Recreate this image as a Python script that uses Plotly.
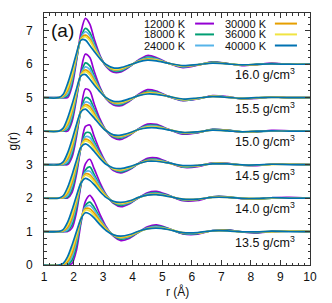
import plotly.graph_objects as go

# r grid (Angstrom) shared by every g(r) curve
R = [1.0, 1.5, 1.65, 1.8, 1.95, 2.1, 2.25, 2.4, 2.55, 2.7, 2.9, 3.1, 3.35, 3.6,
     3.9, 4.2, 4.5, 4.8, 5.2, 5.7, 6.2, 6.7, 7.2, 7.7, 8.2, 8.7, 9.3, 10.0]

TEMPS = ["12000 K", "18000 K", "24000 K", "30000 K", "36000 K", "40000 K"]
COLORS = ["#9400d3", "#009e73", "#56b4e9", "#e69f00", "#f0e442", "#0072b2"]
DENSITIES = ["13.5", "14.0", "14.5", "15.0", "15.5", "16.0"]
OFFSETS = [0, 1, 2, 3, 4, 5]

# g(r) per density; rows ordered as TEMPS
G_13_5 = [
    [0,0,0,0,0.05,0.45,1.25,1.9,2.08,1.9,1.5,1.15,0.86,0.73,0.8,0.98,1.14,1.2,1.1,0.93,0.92,1.03,1.05,0.99,0.96,1.0,1.02,1.0],
    [0,0,0,0.01,0.15,0.6,1.3,1.78,1.88,1.72,1.4,1.12,0.88,0.77,0.83,0.98,1.11,1.16,1.09,0.94,0.94,1.03,1.04,0.99,0.97,1.0,1.01,1.0],
    [0,0,0,0.05,0.25,0.72,1.35,1.73,1.78,1.64,1.36,1.11,0.89,0.8,0.85,0.99,1.1,1.14,1.08,0.95,0.95,1.03,1.03,0.99,0.98,1.0,1.01,1.0],
    [0,0,0.01,0.1,0.35,0.82,1.38,1.68,1.68,1.55,1.31,1.09,0.89,0.82,0.87,0.99,1.09,1.12,1.07,0.96,0.96,1.02,1.03,0.99,0.98,1.0,1.01,1.0],
    [0,0,0.03,0.17,0.47,0.9,1.4,1.64,1.61,1.48,1.26,1.06,0.9,0.84,0.89,1.0,1.08,1.11,1.07,0.97,0.96,1.02,1.02,0.99,0.99,1.0,1.01,1.0],
    [0,0,0.05,0.25,0.6,1.0,1.38,1.56,1.52,1.4,1.2,1.03,0.9,0.86,0.91,1.01,1.08,1.1,1.06,0.97,0.97,1.02,1.02,0.99,0.99,1.01,1.0,1.0],
]
G_14_0 = [
    [0,0,0,0,0.11,0.58,1.39,2.02,2.16,1.87,1.45,1.11,0.84,0.74,0.83,1.01,1.16,1.2,1.09,0.92,0.93,1.04,1.04,0.98,0.97,1.01,1.02,1.0],
    [0,0,0,0.02,0.21,0.71,1.4,1.84,1.93,1.7,1.36,1.09,0.86,0.78,0.85,1.01,1.13,1.16,1.08,0.94,0.95,1.04,1.04,0.99,0.97,1.0,1.01,1.0],
    [0,0,0,0.06,0.31,0.82,1.44,1.78,1.8,1.63,1.33,1.08,0.88,0.81,0.87,1.01,1.12,1.14,1.07,0.95,0.96,1.03,1.03,0.99,0.98,1.0,1.01,1.0],
    [0,0,0.02,0.12,0.41,0.91,1.46,1.72,1.7,1.54,1.28,1.07,0.88,0.83,0.89,1.01,1.1,1.12,1.06,0.96,0.96,1.03,1.03,0.99,0.98,1.0,1.01,1.0],
    [0,0,0.04,0.2,0.52,0.98,1.47,1.68,1.63,1.48,1.24,1.04,0.89,0.85,0.91,1.02,1.09,1.11,1.06,0.97,0.97,1.02,1.02,0.99,0.99,1.0,1.01,1.0],
    [0,0,0.06,0.28,0.65,1.07,1.45,1.59,1.53,1.4,1.19,1.02,0.9,0.87,0.92,1.02,1.09,1.1,1.05,0.97,0.97,1.02,1.02,0.99,0.99,1.01,1.0,1.0],
]
G_14_5 = [
    [0,0,0,0,0.17,0.71,1.53,2.14,2.18,1.84,1.4,1.06,0.82,0.75,0.85,1.04,1.19,1.2,1.07,0.92,0.94,1.05,1.04,0.98,0.97,1.01,1.01,1.0],
    [0,0,0,0.03,0.27,0.82,1.5,1.94,1.95,1.68,1.33,1.05,0.85,0.78,0.87,1.03,1.15,1.16,1.07,0.93,0.96,1.04,1.03,0.98,0.98,1.01,1.01,1.0],
    [0,0,0,0.08,0.37,0.91,1.52,1.83,1.81,1.61,1.3,1.05,0.86,0.81,0.89,1.03,1.13,1.14,1.06,0.94,0.96,1.04,1.03,0.98,0.98,1.01,1.01,1.0],
    [0,0,0.02,0.15,0.47,0.99,1.53,1.76,1.71,1.53,1.26,1.04,0.87,0.83,0.91,1.03,1.12,1.12,1.05,0.95,0.97,1.03,1.03,0.98,0.98,1.01,1.01,1.0],
    [0,0,0.05,0.22,0.57,1.05,1.54,1.71,1.65,1.47,1.22,1.03,0.88,0.85,0.92,1.03,1.1,1.11,1.05,0.96,0.97,1.03,1.02,0.99,0.99,1.0,1.01,1.0],
    [0,0,0.07,0.32,0.7,1.13,1.52,1.62,1.54,1.39,1.18,1.01,0.9,0.88,0.94,1.03,1.1,1.1,1.05,0.97,0.98,1.02,1.02,0.99,0.99,1.01,1.0,1.0],
]
G_15_0 = [
    [0,0,0,0,0.23,0.84,1.67,2.26,2.2,1.81,1.35,1.02,0.8,0.75,0.88,1.07,1.21,1.2,1.06,0.91,0.95,1.05,1.03,0.97,0.98,1.02,1.01,1.0],
    [0,0,0,0.04,0.33,0.93,1.6,2.0,1.95,1.66,1.29,1.02,0.83,0.79,0.9,1.06,1.17,1.17,1.05,0.93,0.96,1.05,1.03,0.98,0.98,1.01,1.0,1.0],
    [0,0,0.01,0.09,0.43,1.01,1.61,1.87,1.83,1.6,1.26,1.02,0.85,0.82,0.91,1.06,1.15,1.15,1.05,0.94,0.97,1.04,1.02,0.98,0.99,1.01,1.0,1.0],
    [0,0,0.03,0.17,0.53,1.08,1.61,1.79,1.73,1.52,1.23,1.02,0.86,0.84,0.92,1.05,1.13,1.13,1.05,0.95,0.97,1.04,1.02,0.98,0.99,1.01,1.0,1.0],
    [0,0,0.05,0.25,0.62,1.13,1.6,1.75,1.66,1.47,1.21,1.01,0.88,0.86,0.94,1.05,1.12,1.12,1.05,0.96,0.98,1.03,1.01,0.98,1.0,1.01,1.0,1.0],
    [0,0,0.08,0.35,0.75,1.2,1.58,1.66,1.54,1.39,1.18,1.01,0.89,0.88,0.95,1.05,1.1,1.1,1.04,0.96,0.98,1.03,1.01,0.98,1.0,1.01,1.0,1.0],
]
G_15_5 = [
    [0,0,0,0,0.29,0.97,1.81,2.3,2.2,1.78,1.3,0.97,0.78,0.76,0.9,1.1,1.24,1.2,1.04,0.91,0.96,1.06,1.03,0.97,0.98,1.02,1.0,1.0],
    [0,0,0,0.05,0.39,1.04,1.7,2.04,1.95,1.64,1.26,0.98,0.82,0.79,0.92,1.08,1.19,1.17,1.04,0.92,0.97,1.05,1.02,0.97,0.99,1.02,1.0,1.0],
    [0,0,0.01,0.11,0.49,1.1,1.69,1.92,1.84,1.58,1.23,0.99,0.83,0.82,0.93,1.08,1.16,1.15,1.04,0.93,0.97,1.05,1.02,0.97,0.99,1.02,1.0,1.0],
    [0,0,0.03,0.2,0.59,1.16,1.68,1.83,1.74,1.51,1.21,0.99,0.85,0.84,0.94,1.07,1.15,1.13,1.04,0.94,0.98,1.04,1.02,0.97,0.99,1.02,1.0,1.0],
    [0,0,0.06,0.27,0.67,1.2,1.67,1.78,1.68,1.46,1.19,1.0,0.87,0.86,0.95,1.06,1.13,1.12,1.04,0.95,0.98,1.04,1.01,0.98,1.0,1.01,1.0,1.0],
    [0,0,0.09,0.39,0.8,1.26,1.65,1.69,1.55,1.38,1.17,1.0,0.89,0.89,0.97,1.06,1.11,1.1,1.04,0.96,0.99,1.03,1.01,0.98,1.0,1.01,1.0,1.0],
]
G_16_0 = [
    [0,0,0,0,0.35,1.1,1.95,2.37,2.2,1.75,1.25,0.93,0.76,0.77,0.93,1.13,1.26,1.2,1.03,0.9,0.97,1.07,1.02,0.96,0.99,1.03,1.0,1.0],
    [0,0,0,0.06,0.45,1.15,1.8,2.07,1.95,1.62,1.22,0.95,0.8,0.8,0.94,1.11,1.21,1.17,1.03,0.92,0.98,1.06,1.02,0.97,0.99,1.02,1.0,1.0],
    [0,0,0.01,0.12,0.55,1.2,1.78,1.97,1.86,1.57,1.2,0.96,0.82,0.83,0.95,1.1,1.18,1.15,1.03,0.93,0.98,1.05,1.02,0.97,0.99,1.02,1.0,1.0],
    [0,0,0.04,0.22,0.65,1.25,1.76,1.87,1.76,1.5,1.18,0.97,0.84,0.85,0.96,1.09,1.16,1.13,1.03,0.94,0.98,1.05,1.02,0.97,0.99,1.02,1.0,1.0],
    [0,0,0.07,0.3,0.72,1.28,1.74,1.82,1.7,1.46,1.17,0.98,0.86,0.87,0.97,1.08,1.14,1.12,1.03,0.95,0.99,1.04,1.01,0.98,1.0,1.01,1.0,1.0],
    [0,0,0.1,0.42,0.85,1.33,1.72,1.72,1.56,1.38,1.16,0.99,0.89,0.9,0.98,1.07,1.12,1.1,1.03,0.96,0.99,1.03,1.01,0.98,1.0,1.01,1.0,1.0],
]
G_ALL = [G_13_5, G_14_0, G_14_5, G_15_0, G_15_5, G_16_0]

FONT = "Liberation Sans, Arial, Helvetica, sans-serif"
AXCOL = "#333333"

fig = go.Figure()
for dens, off, gset in zip(DENSITIES, OFFSETS, G_ALL):
    for temp, col, g in zip(TEMPS, COLORS, gset):
        fig.add_trace(go.Scatter(
            x=R, y=[v + off for v in g], mode="lines",
            line=dict(color=col, width=1.7, shape="spline", smoothing=0.8),
            name=f"{temp}, {dens} g/cm³", showlegend=False, hoverinfo="skip"))

# density labels
for dens, off in zip(DENSITIES, OFFSETS):
    fig.add_annotation(x=9.56, y=off + 0.7, xref="x", yref="y",
                       text=f"{dens} g/cm<sup>3</sup>", showarrow=False,
                       xanchor="right", yanchor="middle",
                       font=dict(family=FONT, size=12.5, color="#111"))

# panel tag
fig.add_annotation(x=0.018, y=0.929, xref="paper", yref="paper", text="(a)",
                   showarrow=False, xanchor="left", yanchor="middle",
                   font=dict(family=FONT, size=19, color="#111"))

# axis titles
fig.add_annotation(x=0.5, y=-0.107, xref="paper", yref="paper", text="r (Å)",
                   showarrow=False, xanchor="center", yanchor="middle",
                   font=dict(family=FONT, size=12, color="#111"))
fig.add_annotation(x=-0.12, y=0.49, xref="paper", yref="paper", text="g(r)",
                   showarrow=False, xanchor="center", yanchor="middle", textangle=-90,
                   font=dict(family=FONT, size=12, color="#111"))

# gnuplot-style key: text, then line sample
text_x = [0.541, 0.846]
line_x = [(0.568, 0.639), (0.868, 0.951)]
row_y = [0.958, 0.915, 0.871]
for k, (temp, col) in enumerate(zip(TEMPS, COLORS)):
    c, r = divmod(k, 3)
    fig.add_annotation(x=text_x[c], y=row_y[r], xref="paper", yref="paper",
                       text=temp, showarrow=False, xanchor="right", yanchor="middle",
                       font=dict(family=FONT, size=11, color="#111"))
    fig.add_shape(type="line", xref="paper", yref="paper",
                  x0=line_x[c][0], x1=line_x[c][1], y0=row_y[r], y1=row_y[r],
                  line=dict(color=col, width=2))

axis_common = dict(
    showgrid=False, zeroline=False, showline=True, linecolor=AXCOL, linewidth=1,
    mirror="allticks", ticks="inside", ticklen=5, tickwidth=1, tickcolor=AXCOL,
    tickfont=dict(family=FONT, size=12, color="#111"), automargin=False,
    minor=dict(ticks="inside", ticklen=2.5, tickwidth=1, tickcolor=AXCOL, dtick=0.2),
)
fig.update_xaxes(range=[1, 10], dtick=1, tick0=1, ticklabelstandoff=1, **axis_common)
fig.update_yaxes(range=[0, 7.53], dtick=1, tick0=0, ticklabelstandoff=8, **axis_common)

fig.update_layout(width=332, height=303, margin=dict(l=44, r=22, t=13, b=38),
                  paper_bgcolor="white", plot_bgcolor="white", showlegend=False,
                  hovermode=False)
fig.write_html("out.html", config={"displayModeBar": False, "staticPlot": True},
               post_script="document.body.style.margin='0';document.body.style.overflow='hidden';")
